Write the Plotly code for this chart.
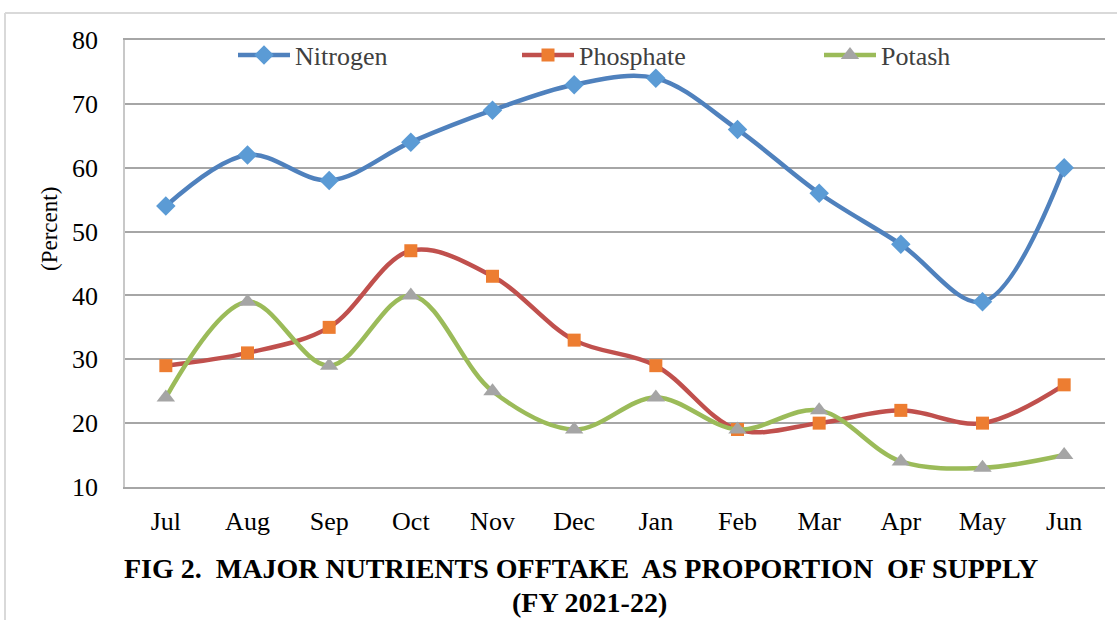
import plotly.graph_objects as go

months = ["Jul", "Aug", "Sep", "Oct", "Nov", "Dec", "Jan", "Feb", "Mar", "Apr", "May", "Jun"]
nitrogen = [54, 62, 58, 64, 69, 73, 74, 66, 56, 48, 39, 60]
phosphate = [29, 31, 35, 47, 43, 33, 29, 19, 20, 22, 20, 26]
potash = [24, 39, 29, 40, 25, 19, 24, 19, 22, 14, 13, 15]

W, H = 1117, 620
ML, MR, MT, MB = 125, 12, 40, 133
PW, PH = W - ML - MR, H - MT - MB

FONT = "Liberation Serif"

def px(x):
    return (x - ML) / PW

def py(y):
    return 1 - (y - MT) / PH

fig = go.Figure()
fig.add_trace(go.Scatter(x=months, y=nitrogen, name="Nitrogen", mode="lines+markers", legend="legend",
                         line=dict(color="#4F81BD", width=4.5, shape="spline", smoothing=1),
                         marker=dict(symbol="diamond", size=15, color="#5B9BD5")))
fig.add_trace(go.Scatter(x=months, y=phosphate, name="Phosphate", mode="lines+markers", legend="legend2",
                         line=dict(color="#C0504D", width=4.5, shape="spline", smoothing=1),
                         marker=dict(symbol="square", size=13, color="#ED7D31")))
fig.add_trace(go.Scatter(x=months, y=potash, name="Potash", mode="lines+markers", legend="legend3",
                         line=dict(color="#9BBB59", width=4.5, shape="spline", smoothing=1),
                         marker=dict(symbol="triangle-up", size=16, color="#A5A5A5")))

def leg(xpix):
    return dict(orientation="h", x=px(xpix), xanchor="left", y=py(55), yanchor="middle",
                font=dict(size=26, color="#404040", family=FONT), bgcolor="rgba(0,0,0,0)",
                itemwidth=52, borderwidth=0)

fig.update_layout(
    width=W, height=H,
    margin=dict(l=ML, r=MR, t=MT, b=MB),
    paper_bgcolor="white", plot_bgcolor="white",
    font=dict(family=FONT, color="black", size=26),
    showlegend=True,
    legend=leg(233), legend2=leg(517), legend3=leg(819),
    xaxis=dict(range=[-0.5, 11.5], showgrid=False, showline=True, mirror=True,
               linecolor="#A6A6A6", linewidth=1.5, ticks="",
               tickfont=dict(size=26, family=FONT), ticklabelstandoff=10, zeroline=False),
    yaxis=dict(range=[10, 80], dtick=10, tick0=10, showgrid=True, gridcolor="#A6A6A6", gridwidth=1.5,
               showline=True, linecolor="#C8C8C8", linewidth=1.5, ticks="", zeroline=False,
               tickfont=dict(size=26, family=FONT), ticklabelstandoff=20),
)

# y-axis title
fig.add_annotation(text="(Percent)", textangle=-90, xref="paper", yref="paper",
                   x=px(50), y=py(229), xanchor="center", yanchor="middle",
                   showarrow=False, font=dict(size=23, family=FONT))
# caption
fig.add_annotation(text="<b>FIG 2.  MAJOR NUTRIENTS OFFTAKE  AS PROPORTION  OF SUPPLY</b>",
                   xref="paper", yref="paper", x=px(581), y=py(568),
                   xanchor="center", yanchor="middle", showarrow=False, font=dict(size=28, family=FONT))
fig.add_annotation(text="<b>(FY 2021-22)</b>",
                   xref="paper", yref="paper", x=px(589), y=py(602),
                   xanchor="center", yanchor="middle", showarrow=False, font=dict(size=28, family=FONT))

# outer frame
fig.add_shape(type="line", xref="paper", yref="paper", x0=px(5), x1=px(5), y0=py(13), y1=py(625),
              line=dict(color="#D9D9D9", width=2))
fig.add_shape(type="line", xref="paper", yref="paper", x0=px(5), x1=px(1125), y0=py(13), y1=py(13),
              line=dict(color="#D9D9D9", width=2))

fig.write_html("out.html", config={"displayModeBar": False},
               post_script="document.body.style.margin='0';document.body.style.overflow='hidden';")
